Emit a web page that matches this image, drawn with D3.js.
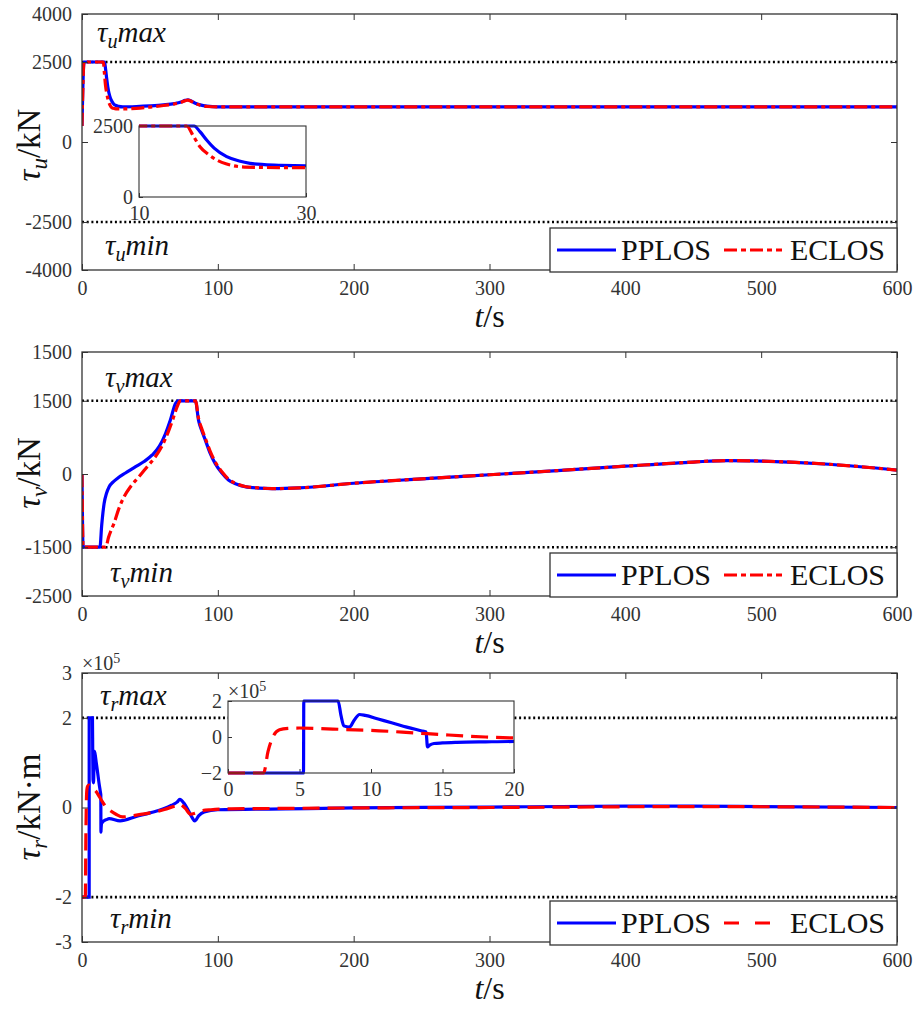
<!DOCTYPE html>
<html>
<head>
<meta charset="utf-8">
<script src="https://cdn.jsdelivr.net/npm/d3@7"></script>
<style>
body { margin: 0; background: #fff; }
</style>
</head>
<body>
<div id="chart"></div>
<script>
// shared x ticks
var timeTicks = [0, 100, 200, 300, 400, 500, 600];
var seriesNames = ["PPLOS", "ECLOS"];

// panel 1: tau_u (kN)
var uTimeP = [0, 1.5, 16.6, 17.3, 18.1, 19, 20.5, 22, 23.3, 25, 27, 30, 40, 50, 60, 68, 73, 76, 78, 80, 83, 87, 92, 100, 120, 200, 300, 400, 500, 600];
var uPPLOS = [500, 2500, 2500, 2300, 2007, 1720, 1420, 1270, 1186, 1140, 1115, 1100, 1110, 1130, 1160, 1200, 1250, 1300, 1320, 1290, 1220, 1160, 1120, 1100, 1100, 1100, 1100, 1100, 1100, 1100];
var uTimeE = [0, 1.5, 15.7, 16.5, 17.3, 18.3, 19.3, 20.5, 22.1, 24, 27, 30, 40, 50, 60, 68, 73, 76, 78, 80, 83, 87, 92, 100, 120, 200, 300, 400, 500, 600];
var uECLOS = [500, 2500, 2500, 2150, 1772, 1500, 1303, 1160, 1067, 1045, 1035, 1032, 1050, 1090, 1140, 1190, 1240, 1290, 1310, 1280, 1210, 1150, 1110, 1095, 1095, 1095, 1095, 1095, 1095, 1095];
var uTicks = [-4000, -2500, 0, 2500, 4000];
var uTickLabels = ["-4000", "-2500", "0", "2500", "4000"];
var uLimits = [2500, -2500];
var uInsetXTicks = [10, 30];
var uInsetYTicks = [0, 2500];

// panel 2: tau_v (kN)
var vTimeP = [0, 0.8, 13.2, 14.5, 16.3, 18, 20, 23, 26, 32, 39.5, 46, 51.7, 57, 61.5, 65, 68.8, 70.5, 83.5, 85.8, 88, 90.8, 94, 98, 103, 107.8, 114, 120, 130, 140, 160, 200, 250, 300, 350, 400, 450, 475, 500, 550, 600];
var vPPLOS = [0, -1500, -1500, -1050, -600, -400, -260, -160, -90, 20, 150, 260, 390, 570, 830, 1100, 1445, 1500, 1500, 1100, 900, 695, 450, 218, 20, -123, -210, -260, -290, -300, -285, -190, -100, -15, 70, 160, 245, 275, 265, 200, 80];
var vTimeE = [0, 0.8, 17.5, 19.5, 21.5, 23.6, 27, 31, 36, 42, 48, 54, 59, 64, 67, 70, 72.4, 83.5, 85.8, 88, 90.8, 94, 98, 103, 107.8, 114, 120, 130, 140, 160, 200, 250, 300, 350, 400, 450, 475, 500, 550, 600];
var vECLOS = [0, -1500, -1500, -1300, -1150, -1008, -720, -464, -250, -55, 150, 354, 580, 900, 1130, 1376, 1500, 1500, 1140, 940, 730, 490, 250, 45, -105, -200, -255, -285, -300, -285, -190, -100, -15, 70, 160, 245, 275, 265, 200, 80];
var vTicks = [-2500, -1500, 0, 1500, 2500];
var vTickLabels = ["-2500", "-1500", "0", "1500", "1500"];
var vLimits = [1500, -1500];

// panel 3: tau_r (x10^5 kN.m)
var rTimeP = [0, 5.28, 5.3, 7.7, 7.9, 8.1, 8.5, 8.8, 9.2, 9.6, 10.5, 11.5, 12.5, 13.5, 13.85, 13.95, 14.1, 14.4, 15, 16, 18, 20, 28, 40, 50, 60, 66, 70, 72, 75, 78, 81, 83, 86, 90, 100, 150, 200, 300, 400, 450, 500, 600];
var rPPLOS = [-2, -2, 2, 2, 1.2, 0.62, 0.55, 0.9, 1.25, 1.2, 1.0, 0.78, 0.55, 0.35, 0.28, -0.55, -0.45, -0.36, -0.33, -0.3, -0.27, -0.25, -0.3, -0.2, -0.12, -0.03, 0.05, 0.12, 0.18, 0.1, -0.05, -0.22, -0.3, -0.18, -0.1, -0.05, -0.03, -0.01, 0.01, 0.03, 0.03, 0.02, 0.0];
var rTimeE = [0, 2.49, 2.8, 3.2, 3.6, 4.2, 5, 6.5, 8, 10, 13, 15, 18, 20, 25, 30, 40, 50, 60, 68, 72, 76, 80, 83, 87, 95, 110, 150, 200, 300, 450, 600];
var rECLOS = [-2, -2, -0.8, 0.1, 0.4, 0.48, 0.5, 0.47, 0.42, 0.37, 0.23, 0.13, 0.0, -0.05, -0.15, -0.21, -0.17, -0.12, -0.05, 0.03, 0.07, -0.02, -0.15, -0.13, -0.08, -0.05, -0.03, -0.02, -0.01, 0.0, 0.02, 0.0];
var rTicks = [-3, -2, 0, 2, 3];
var rTickLabels = ["-3", "-2", "0", "2", "3"];
var rLimits = [2, -2];
var rInsetXTicks = [0, 5, 10, 15, 20];
var rInsetYTicks = [-2, 0, 2];

var chart_width = 917;
var chart_height = 1010;
var plot_left = 82, plot_right = 897;
var blue = "#0000ff", red = "#ff0000", axis_color = "#333";
var serif = "Liberation Serif";
var plain = d3.format("d");

var svg = d3.select("#chart")
    .append("svg")
    .attr("width", chart_width)
    .attr("height", chart_height)
    .style("font-family", serif);

function zip(t, v) {
    return t.map(function(d, i) { return [d, v[i]]; });
}

var clipCount = 0;

function drawLines(g, x, y, series, clip) {
    var line = d3.line()
        .x(function(d) { return x(d[0]); })
        .y(function(d) { return y(d[1]); })
        .curve(d3.curveMonotoneX);
    var lg = g.append("g");
    if (clip) {
        var id = "clip" + (clipCount++);
        svg.append("clipPath").attr("id", id)
            .append("rect")
            .attr("x", clip[0]).attr("y", clip[1])
            .attr("width", clip[2]).attr("height", clip[3]);
        lg.attr("clip-path", "url(#" + id + ")");
    }
    series.forEach(function(s) {
        lg.append("path")
            .datum(s.data)
            .attr("fill", "none")
            .attr("stroke", s.color)
            .attr("stroke-width", 3.2)
            .attr("stroke-dasharray", s.dash)
            .attr("d", line);
    });
}

function styleAxis(g, size) {
    g.attr("font-size", size).attr("font-family", serif);
    g.selectAll("text").attr("fill", axis_color);
    g.selectAll("line").attr("stroke", axis_color).attr("stroke-width", 1);
    g.select(".domain").remove();
}

// math-style label helper
function addSymbol(text, sub, rest, size, restItalic) {
    text.append("tspan").style("font-style", "italic").text("\u03c4");
    text.append("tspan").style("font-style", "italic").attr("font-size", size * 0.7)
        .attr("dy", size * 0.22).text(sub);
    text.append("tspan").attr("dy", -size * 0.22)
        .style("font-style", restItalic ? "italic" : "normal").text(rest);
}

function drawPanel(p) {
    var x = d3.scaleLinear().domain([0, 600]).range([plot_left, plot_right]);
    var y = d3.scaleLinear().domain(p.domain).range([p.bottom, p.top]);
    var g = svg.append("g");

    // dotted saturation limits
    p.limits.forEach(function(l) {
        g.append("line")
            .attr("x1", x(0)).attr("x2", x(600))
            .attr("y1", y(l)).attr("y2", y(l))
            .attr("stroke", "#000")
            .attr("stroke-width", 2.6)
            .attr("stroke-dasharray", "2,2.7");
    });

    drawLines(g, x, y, p.series, [plot_left, p.top, plot_right - plot_left, p.bottom - p.top]);

    // axes
    var ax = g.append("g").attr("transform", "translate(0," + p.bottom + ")")
        .call(d3.axisBottom(x).tickValues(timeTicks).tickSizeInner(-6).tickSizeOuter(0).tickPadding(11)
            .tickFormat(plain));
    styleAxis(ax, 20);
    var axt = g.append("g").attr("transform", "translate(0," + p.top + ")")
        .call(d3.axisTop(x).tickValues(timeTicks).tickSizeInner(-6).tickSizeOuter(0).tickFormat(""));
    styleAxis(axt, 20);
    var ay = g.append("g").attr("transform", "translate(" + plot_left + ",0)")
        .call(d3.axisLeft(y).tickValues(p.ticks).tickSizeInner(-6).tickSizeOuter(0).tickPadding(10)
            .tickFormat(function(d, i) { return p.tickLabels[i]; }));
    styleAxis(ay, 20);
    var ayr = g.append("g").attr("transform", "translate(" + plot_right + ",0)")
        .call(d3.axisRight(y).tickValues(p.ticks).tickSizeInner(-6).tickSizeOuter(0).tickFormat(""));
    styleAxis(ayr, 20);

    g.append("rect")
        .attr("x", plot_left).attr("y", p.top)
        .attr("width", plot_right - plot_left).attr("height", p.bottom - p.top)
        .attr("fill", "none").attr("stroke", axis_color).attr("stroke-width", 1.3);

    // axis labels
    var xl = g.append("text")
        .attr("x", (plot_left + plot_right) / 2).attr("y", p.bottom + 57)
        .attr("text-anchor", "middle").attr("font-size", 32).attr("fill", "#111");
    xl.append("tspan").style("font-style", "italic").text("t");
    xl.append("tspan").text("/s");

    var yl = g.append("text")
        .attr("transform", "translate(" + 40 + "," + p.ylabelY + ") rotate(-90)")
        .attr("text-anchor", "middle").attr("font-size", 33).attr("fill", "#111");
    addSymbol(yl, p.sub, p.unit, 33, false);

    // max / min annotations
    var tmax = g.append("text").attr("x", p.maxPos[0]).attr("y", p.maxPos[1])
        .attr("font-size", 29).attr("fill", "#111");
    addSymbol(tmax, p.sub, "max", 29, true);
    var tmin = g.append("text").attr("x", p.minPos[0]).attr("y", p.minPos[1])
        .attr("font-size", 29).attr("fill", "#111");
    addSymbol(tmin, p.sub, "min", 29, true);

    if (p.exponent) {
        var ex = g.append("text").attr("x", plot_left).attr("y", p.top - 3)
            .attr("font-size", 20).attr("fill", axis_color);
        ex.append("tspan").text("\u00d710");
        ex.append("tspan").attr("dy", -7).attr("font-size", 14).text("5");
    }

    if (p.inset) drawInset(p.inset);

    // legend
    var lw = 347, lh = 44;
    var lx = plot_right - lw, ly = p.bottom + p.legendShift - lh;
    var leg = g.append("g").attr("transform", "translate(" + lx + "," + ly + ")");
    leg.append("rect").attr("width", lw).attr("height", lh)
        .attr("fill", "#fff").attr("stroke", axis_color).attr("stroke-width", 1.3);
    leg.append("line").attr("x1", 7).attr("x2", 66).attr("y1", lh / 2).attr("y2", lh / 2)
        .attr("stroke", blue).attr("stroke-width", 3.2);
    leg.append("text").attr("x", 71).attr("y", lh / 2 + 10).attr("font-size", 30)
        .attr("fill", "#111").text(seriesNames[0]);
    leg.append("line").attr("x1", 174).attr("x2", p.legendDashEnd).attr("y1", lh / 2).attr("y2", lh / 2)
        .attr("stroke", red).attr("stroke-width", 3.2).attr("stroke-dasharray", p.legendDash);
    leg.append("text").attr("x", 240).attr("y", lh / 2 + 10).attr("font-size", 30)
        .attr("fill", "#111").text(seriesNames[1]);
}

function drawInset(s) {
    var x = d3.scaleLinear().domain(s.xDomain).range([s.left, s.right]);
    var y = d3.scaleLinear().domain(s.yDomain).range([s.bottom, s.top]);
    var g = svg.append("g");
    g.append("rect")
        .attr("x", s.left).attr("y", s.top)
        .attr("width", s.right - s.left).attr("height", s.bottom - s.top)
        .attr("fill", "#fff");

    var ax = g.append("g").attr("transform", "translate(0," + s.bottom + ")")
        .call(d3.axisBottom(x).tickValues(s.xTicks).tickSizeInner(-4).tickSizeOuter(0).tickPadding(9)
            .tickFormat(plain));
    styleAxis(ax, 20);
    var ay = g.append("g").attr("transform", "translate(" + s.left + ",0)")
        .call(d3.axisLeft(y).tickValues(s.yTicks).tickSizeInner(-4).tickSizeOuter(0).tickPadding(6)
            .tickFormat(plain));
    styleAxis(ay, 20);

    drawLines(g, x, y, s.series, [s.left, s.top - 3, s.right - s.left, s.bottom - s.top + 6]);

    g.append("rect")
        .attr("x", s.left).attr("y", s.top)
        .attr("width", s.right - s.left).attr("height", s.bottom - s.top)
        .attr("fill", "none").attr("stroke", axis_color).attr("stroke-width", 1.1);

    if (s.exponent) {
        var ex = g.append("text").attr("x", s.left).attr("y", s.top - 3)
            .attr("font-size", 20).attr("fill", axis_color);
        ex.append("tspan").text("\u00d710");
        ex.append("tspan").attr("dy", -7).attr("font-size", 14).text("5");
    }
}

var dashDot = "13,4,4,4";
var dashed = "17,8";

var uSeries = [
    { data: zip(uTimeP, uPPLOS), color: blue, dash: null },
    { data: zip(uTimeE, uECLOS), color: red, dash: dashDot }
];
var vSeries = [
    { data: zip(vTimeP, vPPLOS), color: blue, dash: null },
    { data: zip(vTimeE, vECLOS), color: red, dash: dashDot }
];
var rSeries = [
    { data: zip(rTimeP, rPPLOS), color: blue, dash: null },
    { data: zip(rTimeE, rECLOS), color: red, dash: dashed }
];

drawPanel({
    top: 14, bottom: 270, domain: [-4000, 4000],
    ticks: uTicks, tickLabels: uTickLabels, limits: uLimits,
    series: uSeries, sub: "u", unit: "/kN", ylabelY: 145,
    maxPos: [97, 42], minPos: [105, 255],
    legendShift: 2, legendDash: "13,4,5,4", legendDashEnd: 232,
    inset: {
        left: 139, right: 306, top: 126, bottom: 197,
        xDomain: [10, 30], yDomain: [0, 2500],
        xTicks: uInsetXTicks, yTicks: uInsetYTicks, series: uSeries
    }
});

drawPanel({
    top: 352, bottom: 596, domain: [-2500, 2500],
    ticks: vTicks, tickLabels: vTickLabels, limits: vLimits,
    series: vSeries, sub: "v", unit: "/kN", ylabelY: 473,
    maxPos: [105, 387], minPos: [110, 582],
    legendShift: 1, legendDash: "13,4,5,4", legendDashEnd: 232
});

drawPanel({
    top: 673, bottom: 942, domain: [-3, 3],
    ticks: rTicks, tickLabels: rTickLabels, limits: rLimits,
    series: rSeries, sub: "r", unit: "/kN\u00b7m", ylabelY: 807,
    maxPos: [100, 705], minPos: [110, 928], exponent: true,
    legendShift: 3, legendDash: "15,16", legendDashEnd: 220,
    inset: {
        left: 228, right: 514, top: 701, bottom: 773,
        xDomain: [0, 20], yDomain: [-2, 2],
        xTicks: rInsetXTicks, yTicks: rInsetYTicks, series: rSeries, exponent: true
    }
});

// inline font on every text and tspan so nothing falls back to a sans default
svg.selectAll("text, tspan")
    .attr("font-family", serif)
    .style("font-family", serif);
</script>
</body>
</html>
